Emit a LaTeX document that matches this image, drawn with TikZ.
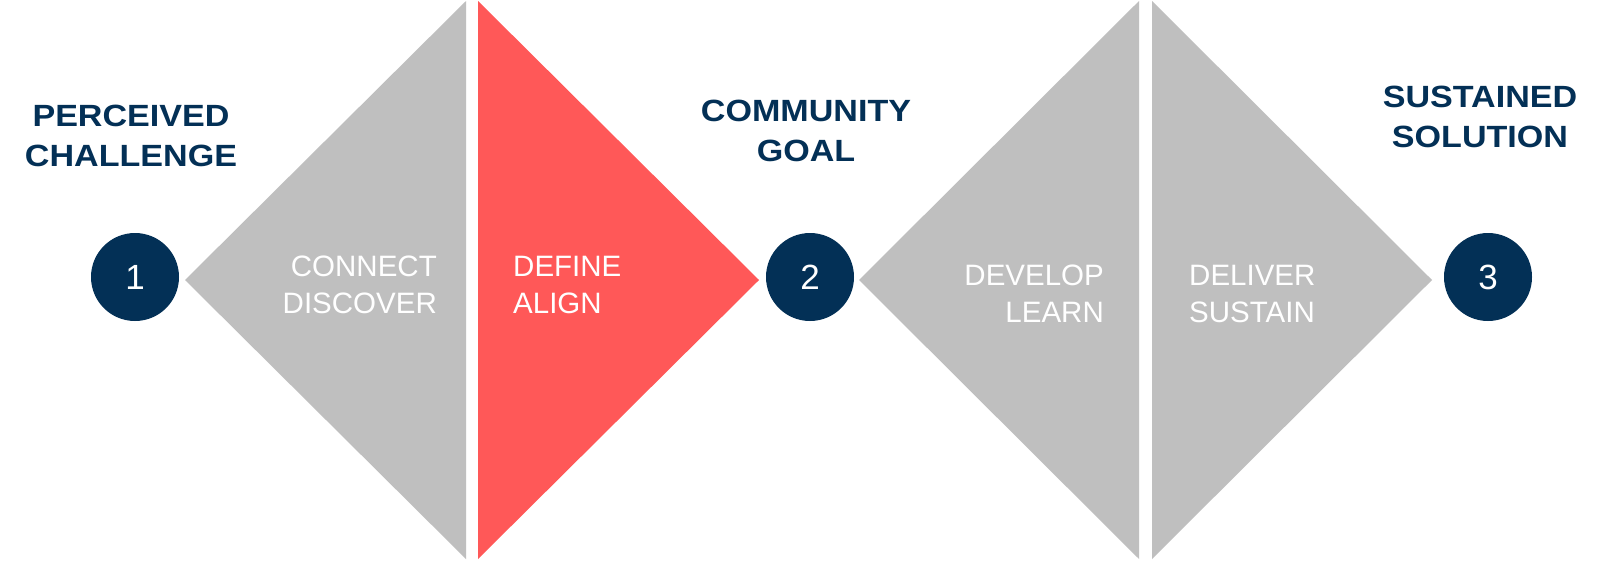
\documentclass[tikz,border=0pt]{standalone}
\usepackage{fontspec}
\setmainfont{Liberation Sans}
\newfontfamily\headfont[FakeStretch=1.11]{Liberation Sans}
\usepackage{tikz}
\definecolor{stagegray}{RGB}{191, 191, 191}
\definecolor{stagered}{RGB}{255, 88, 88}
\definecolor{navyblue}{RGB}{3, 48, 86}

\tikzset{
    stagetext/.style={inner sep=0pt, text=white, font=\fontsize{29.5}{37}\selectfont},
    headtext/.style={inner sep=0pt, anchor=north, align=center, text=navyblue,
                     font=\headfont\bfseries\fontsize{30.7}{40}\selectfont},
    stepnum/.style={circle, fill=navyblue, minimum size=88pt, inner sep=0pt,
                    text=white, font=\fontsize{35}{35}\selectfont}
}

\begin{document}
\begin{tikzpicture}[x=1pt, y=-1pt]
            % Frame to ensure alignment
            \useasboundingbox (0,0) rectangle (1600,560);
            \fill[white] (0,0) rectangle (1600,560);
            % Stage triangles
            \fill[stagegray] ( 466, 1) -- ( 185,280) -- ( 466,559) -- cycle;
            \fill[stagered]  ( 478, 1) -- ( 759,280) -- ( 478,559) -- cycle;
            \fill[stagegray] (1139, 1) -- ( 859,280) -- (1139,559) -- cycle;
            \fill[stagegray] (1152, 1) -- (1432,280) -- (1152,559) -- cycle;
            % Stage labels
            \node[stagetext, anchor=north east, align=right] (connect) at ( 437,256) {CONNECT\\DISCOVER};
            \node[stagetext, anchor=north west, align=left]  (define)  at ( 513,256) {DEFINE\\ALIGN};
            \node[stagetext, anchor=north east, align=right] (develop) at (1104,265) {DEVELOP\\LEARN};
            \node[stagetext, anchor=north west, align=left]  (deliver) at (1189,265) {DELIVER\\SUSTAIN};
            % Milestones
            \node[stepnum] (one)   at ( 135,277) {1};
            \node[stepnum] (two)   at ( 810,277) {2};
            \node[stepnum] (three) at (1488,277) {3};
            % Milestone headings
            \node[headtext] (challenge) at ( 131,105) {PERCEIVED\\CHALLENGE};
            \node[headtext] (goal)      at ( 806,100) {COMMUNITY\\GOAL};
            \node[headtext] (solution)  at (1480, 86) {SUSTAINED\\SOLUTION};
        \end{tikzpicture}
\end{document}
